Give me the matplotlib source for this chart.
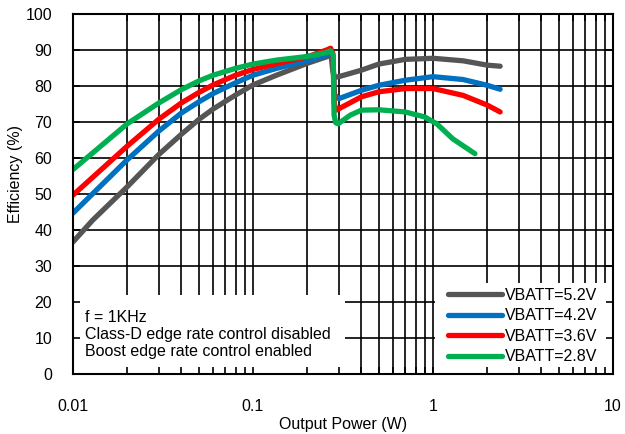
import numpy as np
import matplotlib
matplotlib.use("Agg")
import matplotlib.pyplot as plt
from matplotlib.patches import Rectangle

plt.rcParams['font.family'] = ['Liberation Sans', 'DejaVu Sans']

# Efficiency curves
x_52 = [0.01, 0.0129, 0.02, 0.03, 0.04, 0.05, 0.06, 0.08, 0.1, 0.135, 0.2, 0.256,
        0.266, 0.272, 0.277, 0.283, 0.3, 0.4, 0.5, 0.7, 1.0, 1.47, 2.0, 2.36]
y_52 = [36.7, 42.8, 52.0, 61.0, 66.6, 70.7, 73.6, 77.5, 80.3, 83.0, 86.3, 88.1,
        88.6, 88.3, 84.5, 82.4, 82.6, 84.4, 86.1, 87.4, 87.7, 87.0, 85.8, 85.5]

x_42 = [0.01, 0.02, 0.03, 0.04, 0.05, 0.06, 0.08, 0.1, 0.135, 0.2, 0.256, 0.27,
        0.278, 0.284, 0.3, 0.4, 0.5, 0.7, 1.0, 1.47, 2.0, 2.36]
y_42 = [44.7, 59.5, 67.5, 72.5, 75.6, 77.9, 80.9, 83.0, 84.9, 87.0, 88.6, 89.2,
        87.0, 77.5, 76.5, 78.8, 80.2, 81.6, 82.6, 81.8, 80.2, 79.1]

x_36 = [0.01, 0.02, 0.03, 0.04, 0.05, 0.06, 0.08, 0.1, 0.135, 0.2, 0.256, 0.27,
        0.278, 0.283, 0.29, 0.4, 0.5, 0.7, 1.0, 1.47, 2.0, 2.36]
y_36 = [49.7, 63.3, 70.8, 75.3, 78.2, 80.3, 83.0, 84.6, 86.2, 88.1, 90.0, 90.5,
        89.0, 75.0, 73.3, 77.0, 78.4, 79.3, 79.3, 77.4, 74.7, 72.8]

x_28 = [0.01, 0.02, 0.03, 0.04, 0.05, 0.06, 0.08, 0.1, 0.135, 0.2, 0.256, 0.27,
        0.279, 0.282, 0.288, 0.297, 0.347, 0.4, 0.5, 0.7, 0.9, 1.05, 1.29, 1.71]
y_28 = [56.8, 69.5, 75.3, 79.0, 81.4, 83.0, 84.9, 86.1, 87.2, 88.2, 89.3, 89.8,
        88.5, 72.0, 69.8, 69.5, 71.9, 73.3, 73.4, 72.8, 71.4, 69.5, 65.3, 61.2]

series = [
    ("VBATT=5.2V", x_52, y_52, "#555555"),
    ("VBATT=4.2V", x_42, y_42, "#0070C0"),
    ("VBATT=3.6V", x_36, y_36, "#FF0000"),
    ("VBATT=2.8V", x_28, y_28, "#00B050"),
]

note = "f = 1KHz\nClass-D edge rate control disabled\nBoost edge rate control enabled"

fig = plt.figure(figsize=(6.25, 4.34), dpi=100)
ax = fig.add_axes([0.1168, 0.1382, 0.8640, 0.8295])
ax.set_xscale('log')
ax.set_xlim(0.01, 10)
ax.set_ylim(0, 100)

# grid drawn by hand so the white boxes can sit on top of it
for dec in [0.01, 0.1, 1]:
    for m in range(1, 10):
        ax.axvline(dec * m, color='black', lw=1.2, zorder=0.5)
for yv in range(10, 100, 10):
    ax.axhline(yv, color='black', lw=1.2, zorder=0.5)

# white boxes behind the note and legend
ax.add_patch(Rectangle((0.01, 0), 0.314, 21.9, facecolor='white',
                       edgecolor='none', zorder=1))
ax.add_patch(Rectangle((1.02, 0), 9.0, 25.3, facecolor='white',
                       edgecolor='none', zorder=1))

for label, xs, ys, col in series:
    ax.plot(xs, ys, color=col, lw=3.8, label=label, zorder=2,
            solid_joinstyle='round', solid_capstyle='round')

ax.text(0.01166, 11.0, note, fontsize=11.5, va='center', ha='left',
        linespacing=1.2, zorder=3)

leg = ax.legend(loc='lower right', frameon=False, fontsize=11.5,
                handlelength=3.4, handletextpad=0.15, labelspacing=0.35,
                borderaxespad=0.2, bbox_to_anchor=(0.988, 0.0))
for h in leg.get_lines():
    h.set_linewidth(3.8)
    h.set_solid_capstyle('round')

ax.set_xticks([0.01, 0.1, 1, 10])
ax.set_xticklabels(["0.01", "0.1", "1", "10"])
ax.set_yticks(range(0, 101, 10))
ax.tick_params(which='both', direction='in', top=True, right=True,
               labelsize=11.5, width=1.2, length=5)
ax.tick_params(axis='x', which='both', pad=18)
ax.tick_params(axis='y', which='both', pad=15)
for s in ax.spines.values():
    s.set_linewidth(1.5)

ax.set_xlabel("Output Power (W)", fontsize=11.5, labelpad=2)
ax.set_ylabel("Efficiency (%)", fontsize=11.5)
ax.yaxis.set_label_coords(-0.093, 0.556)

fig.savefig("out.png", dpi=100)
